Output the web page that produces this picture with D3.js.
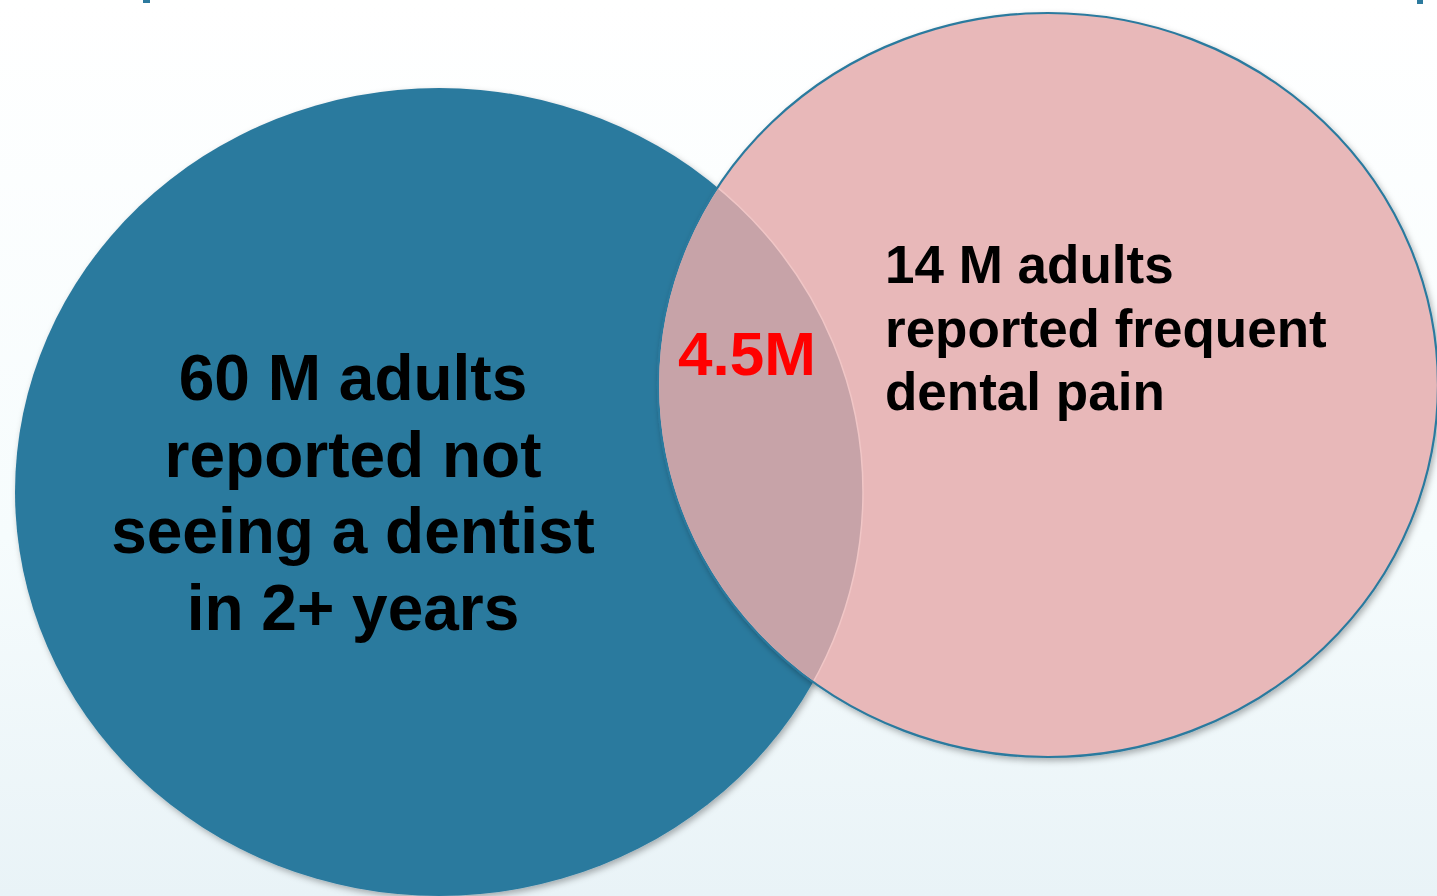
<!DOCTYPE html>
<html>
<head>
<meta charset="utf-8">
<script src="https://cdn.jsdelivr.net/npm/d3@7"></script>
<style>
  html, body { margin: 0; padding: 0; overflow: hidden; }
  svg { display: block; }
</style>
</head>
<body>
<svg id="venn"></svg>
<script>
// values
const setNames = ["notSeeing", "dentalPain"];
const setValues = [60, 14];           // millions of adults
const overlapValue = 4.5;             // millions in both
const setLabels = [
  ["60 M adults", "reported not", "seeing a dentist", "in 2+ years"],
  ["14 M adults", "reported frequent", "dental pain"]
];
const overlapLabel = overlapValue + "M";

const W = 1437, H = 896;

// ellipse geometry (layout only)
const shapes = {
  notSeeing:  { cx: 439,  cy: 492, rx: 424, ry: 404, fill: "#2c7a9e", stroke: "none" },
  dentalPain: { cx: 1048, cy: 385, rx: 390, ry: 372, fill: "#e8b8b9", stroke: "#2c7a9e" }
};

const svg = d3.select("#venn").attr("width", W).attr("height", H);
const defs = svg.append("defs");

const grad = defs.append("linearGradient")
  .attr("id", "bg").attr("x1", 0).attr("y1", 0).attr("x2", 0).attr("y2", 1);
grad.append("stop").attr("offset", "0%").attr("stop-color", "#ffffff");
grad.append("stop").attr("offset", "60%").attr("stop-color", "#f6fcfd");
grad.append("stop").attr("offset", "100%").attr("stop-color", "#e9f3f7");

const shadow = defs.append("filter").attr("id", "shadow")
  .attr("x", "-10%").attr("y", "-10%").attr("width", "120%").attr("height", "120%");
shadow.append("feDropShadow")
  .attr("dx", 2).attr("dy", 3).attr("stdDeviation", 3)
  .attr("flood-color", "#000").attr("flood-opacity", 0.3);

// clip to the blue set for the overlap
const a = shapes[setNames[0]];
defs.append("clipPath").attr("id", "clipA")
  .append("ellipse")
  .attr("cx", a.cx).attr("cy", a.cy).attr("rx", a.rx).attr("ry", a.ry);

svg.append("rect").attr("width", W).attr("height", H).attr("fill", "url(#bg)");

// bits of a cut-off heading at the top edge
svg.append("rect").attr("x", 143).attr("y", 0).attr("width", 7).attr("height", 3).attr("fill", "#2c7a9e");
svg.append("rect").attr("x", 1417).attr("y", 0).attr("width", 6).attr("height", 4).attr("fill", "#2c7a9e");

const g = svg.append("g");

g.selectAll("ellipse.set")
  .data(setNames)
  .join("ellipse")
  .attr("class", "set")
  .attr("cx", d => shapes[d].cx)
  .attr("cy", d => shapes[d].cy)
  .attr("rx", d => shapes[d].rx)
  .attr("ry", d => shapes[d].ry)
  .attr("fill", d => shapes[d].fill)
  .attr("stroke", d => shapes[d].stroke)
  .attr("stroke-width", 2.2)
  .attr("filter", "url(#shadow)");

// overlap region
const b = shapes[setNames[1]];
g.append("ellipse")
  .attr("cx", b.cx).attr("cy", b.cy).attr("rx", b.rx - 1.1).attr("ry", b.ry - 1.1)
  .attr("clip-path", "url(#clipA)")
  .attr("fill", "#c7a3a8");

// faint edge of the blue set inside the pink one
defs.append("clipPath").attr("id", "clipB")
  .append("ellipse")
  .attr("cx", b.cx).attr("cy", b.cy).attr("rx", b.rx - 1.5).attr("ry", b.ry - 1.5);
g.append("ellipse")
  .attr("cx", a.cx).attr("cy", a.cy).attr("rx", a.rx).attr("ry", a.ry)
  .attr("fill", "none")
  .attr("stroke", "#f0c6c6")
  .attr("stroke-width", 1.5)
  .attr("clip-path", "url(#clipB)");

const font = "'Liberation Sans', Arial, Helvetica, sans-serif";

// left label, centred
const leftText = g.append("text")
  .attr("font-family", font).attr("font-weight", "bold")
  .attr("font-size", 64).attr("fill", "#000")
  .attr("text-anchor", "middle");
leftText.selectAll("tspan")
  .data(setLabels[0])
  .join("tspan")
  .attr("x", 353)
  .attr("y", (d, i) => 400 + i * 76.5)
  .text(d => d);

// right label, left aligned
const rightText = g.append("text")
  .attr("font-family", font).attr("font-weight", "bold")
  .attr("font-size", 53).attr("fill", "#000");
rightText.selectAll("tspan")
  .data(setLabels[1])
  .join("tspan")
  .attr("x", 885)
  .attr("y", (d, i) => 283 + i * 63.5)
  .text(d => d);

// overlap value
g.append("text")
  .attr("font-family", font).attr("font-weight", "bold")
  .attr("font-size", 62).attr("fill", "#ff0000")
  .attr("text-anchor", "middle")
  .attr("x", 747).attr("y", 375)
  .text(overlapLabel);
</script>
</body>
</html>
